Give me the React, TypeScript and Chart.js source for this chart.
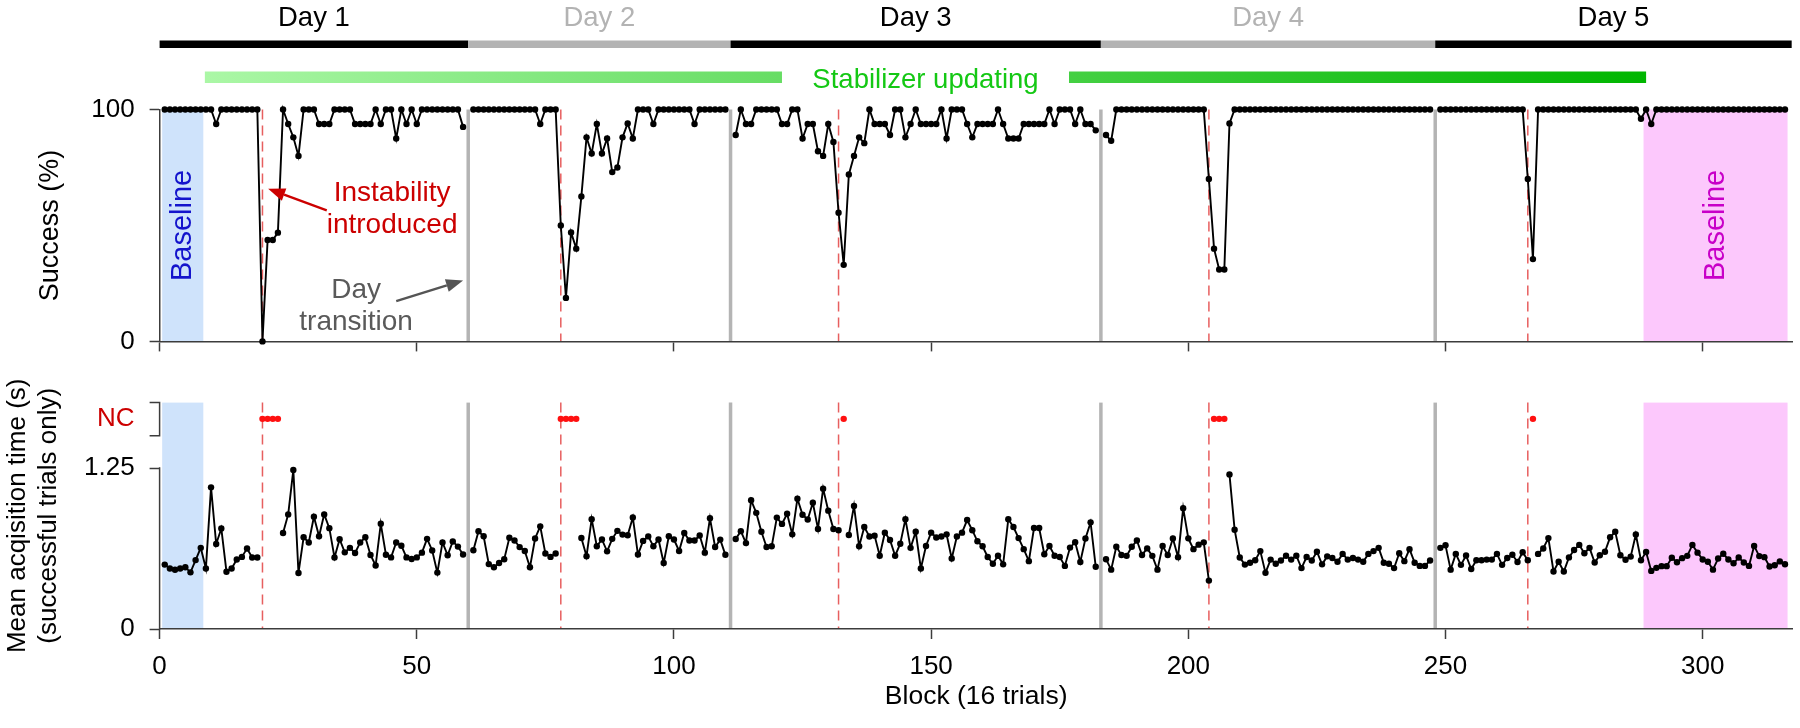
import React, { useEffect, useRef } from 'react';
import { Chart, registerables } from 'chart.js';

Chart.register(...registerables);

const FONT_FAMILY = '"Liberation Sans", Arial, Helvetica, sans-serif';
const FS = 26;
const FS_NOTE = 28;

const X_MIN = 0;
const X_MAX = 317.5;
const xTickValues = [0, 50, 100, 150, 200, 250, 300];

const dayNames = ['Day 1', 'Day 2', 'Day 3', 'Day 4', 'Day 5'];
const dayEdges = [0, 60, 111, 183, 248, 317.3];
const dayShades = ['#000000', '#b3b3b3', '#000000', '#b3b3b3', '#000000'];
const dayFirstBlock = [1, 61, 112, 184, 249];
const dayTransitions = [60, 111, 183, 248];
const instabilityBlocks = [20, 78, 132, 204, 266];
const ncBlocks = [20, 21, 22, 23, 78, 79, 80, 81, 133, 205, 206, 207, 267];
const NC_LEVEL = 1.632;
const stabilizerSpans = [[8.8, 121], [176.8, 289]];
const baselineSpans = [[0.5, 8.5], [288.5, 316.5]];

// Success (%) per block, one array per day
const success1 = [
  100, 100, 100, 100, 100, 100, 100, 100, 100, 100,
  93.75, 100, 100, 100, 100, 100, 100, 100, 100, 0,
  43.75, 43.75, 46.9, 100, 93.75, 88, 80, 100, 100, 100,
  93.75, 93.75, 93.75, 100, 100, 100, 100, 93.75, 93.75, 93.75,
  93.75, 100, 93.75, 100, 100, 87.5, 100, 93.75, 100, 93.75,
  100, 100, 100, 100, 100, 100, 100, 100, 92.5,
];
const success2 = [
  100, 100, 100, 100, 100, 100, 100, 100, 100, 100,
  100, 100, 100, 93.75, 100, 100, 100, 50, 18.75, 47,
  40, 62.5, 88, 81, 93.75, 81, 87.5, 73, 75, 88,
  94, 87.5, 100, 100, 100, 93.75, 100, 100, 100, 100,
  100, 100, 100, 93.75, 100, 100, 100, 100, 100, 100,
];
const success3 = [
  89, 100, 93.75, 93.75, 100, 100, 100, 100, 100, 93.75,
  93.75, 100, 100, 87.5, 93.75, 93.75, 82, 80, 93.75, 86,
  55.5, 33, 72, 80, 88, 85.5, 100, 93.75, 93.75, 93.75,
  89, 100, 100, 88, 93.75, 100, 93.75, 93.75, 93.75, 93.75,
  100, 87.5, 100, 100, 100, 93.75, 88, 93.75, 93.75, 93.75,
  93.75, 100, 93.75, 87.5, 87.5, 87.5, 93.75, 93.75, 93.75, 93.75,
  93.75, 100, 93.75, 100, 100, 100, 93.75, 100, 93.75, 93.75,
  91,
];
const success4 = [
  89, 86.5, 100, 100, 100, 100, 100, 100, 100, 100,
  100, 100, 100, 100, 100, 100, 100, 100, 100, 100,
  70, 40, 31, 31, 94, 100, 100, 100, 100, 100,
  100, 100, 100, 100, 100, 100, 100, 100, 100, 100,
  100, 100, 100, 100, 100, 100, 100, 100, 100, 100,
  100, 100, 100, 100, 100, 100, 100, 100, 100, 100,
  100, 100, 100, 100,
];
const success5 = [
  100, 100, 100, 100, 100, 100, 100, 100, 100, 100,
  100, 100, 100, 100, 100, 100, 100, 70, 35.5, 100,
  100, 100, 100, 100, 100, 100, 100, 100, 100, 100,
  100, 100, 100, 100, 100, 100, 100, 100, 100, 96,
  100, 93.75, 100, 100, 100, 100, 100, 100, 100, 100,
  100, 100, 100, 100, 100, 100, 100, 100, 100, 100,
  100, 100, 100, 100, 100, 100, 100, 100,
];

// Mean acquisition time (s) per block, null = not computed (NC)
const time1 = [
  0.5, 0.47, 0.46, 0.47, 0.48, 0.44, 0.535, 0.63, 0.47, 1.1,
  0.66, 0.78, 0.445, 0.47, 0.54, 0.56, 0.625, 0.555, 0.555, null,
  null, null, null, 0.745, 0.89, 1.235, 0.435, 0.712, 0.672, 0.872,
  0.72, 0.89, 0.783, 0.555, 0.697, 0.595, 0.63, 0.59, 0.672, 0.712,
  0.575, 0.493, 0.817, 0.577, 0.556, 0.672, 0.647, 0.556, 0.543, 0.556,
  0.593, 0.7, 0.61, 0.438, 0.672, 0.573, 0.68, 0.64, 0.578,
];
const time2 = [
  0.611, 0.759, 0.72, 0.504, 0.479, 0.512, 0.542, 0.708, 0.687, 0.636,
  0.606, 0.479, 0.703, 0.797, 0.586, 0.56, 0.586, null, null, null,
  null, 0.707, 0.565, 0.853, 0.643, 0.695, 0.603, 0.7, 0.762, 0.733,
  0.728, 0.866, 0.578, 0.684, 0.719, 0.643, 0.695, 0.513, 0.72, 0.695,
  0.606, 0.745, 0.687, 0.687, 0.726, 0.593, 0.86, 0.637, 0.694, 0.576,
];
const time3 = [
  0.699, 0.76, 0.667, 1.0, 0.902, 0.755, 0.637, 0.642, 0.865, 0.816,
  0.895, 0.735, 1.012, 0.887, 0.85, 0.98, 0.777, 1.09, 0.919, 0.777,
  0.767, null, 0.73, 0.956, 0.642, 0.792, 0.718, 0.725, 0.569, 0.748,
  0.691, 0.569, 0.662, 0.853, 0.63, 0.755, 0.47, 0.645, 0.748, 0.711,
  0.718, 0.735, 0.547, 0.718, 0.748, 0.846, 0.767, 0.681, 0.642, 0.559,
  0.507, 0.569, 0.502, 0.853, 0.792, 0.706, 0.62, 0.527, 0.784, 0.784,
  0.581, 0.645, 0.569, 0.559, 0.49, 0.632, 0.674, 0.52, 0.703, 0.828,
  0.483,
];
const time4 = [
  0.542, 0.461, 0.639, 0.575, 0.568, 0.639, 0.687, 0.575, 0.626, 0.568,
  0.461, 0.644, 0.575, 0.703, 0.558, 0.938, 0.704, 0.62, 0.655, 0.673,
  0.376, null, null, null, 1.2, 0.771, 0.555, 0.5, 0.515, 0.534,
  0.605, 0.436, 0.539, 0.507, 0.532, 0.569, 0.539, 0.569, 0.473, 0.559,
  0.532, 0.6, 0.502, 0.564, 0.551, 0.522, 0.583, 0.539, 0.551, 0.539,
  0.522, 0.583, 0.605, 0.63, 0.515, 0.507, 0.473, 0.588, 0.527, 0.62,
  0.515, 0.49, 0.49, 0.532,
];
const time5 = [
  0.63, 0.65, 0.461, 0.583, 0.498, 0.571, 0.466, 0.534, 0.534, 0.539,
  0.539, 0.583, 0.498, 0.551, 0.576, 0.52, 0.596, 0.534, null, 0.583,
  0.625, 0.706, 0.447, 0.522, 0.446, 0.556, 0.613, 0.653, 0.588, 0.63,
  0.516, 0.573, 0.6, 0.712, 0.755, 0.573, 0.538, 0.562, 0.734, 0.534,
  0.598, 0.451, 0.475, 0.488, 0.488, 0.553, 0.518, 0.55, 0.568, 0.653,
  0.593, 0.54, 0.522, 0.461, 0.547, 0.584, 0.54, 0.51, 0.555, 0.516,
  0.49, 0.645, 0.566, 0.558, 0.485, 0.495, 0.525, 0.503,
];

const successDays = [success1, success2, success3, success4, success5];
const timeDays = [time1, time2, time3, time4, time5];

const AXIS = '#3c3c3c';
const BLUE_SHADE = '#cfe3fb';
const PINK_SHADE = '#fcc8fc';
const GRAY_LINE = '#b4b4b4';
const RED_DASH = 'rgba(228, 78, 78, 0.9)';
const LABEL_RED = '#cc0000';

const font = (size = FS) => `${size}px ${FONT_FAMILY}`;

function toPoints(values: (number | null)[], first: number) {
  return values.map((v, i) => ({ x: first + i, y: v }));
}

function lineDataset(points: any[]) {
  return {
    data: points,
    borderColor: '#000',
    backgroundColor: '#000',
    borderWidth: 1.9,
    pointRadius: 3.2,
    pointBorderWidth: 0,
    pointBackgroundColor: '#000',
    tension: 0,
    spanGaps: false,
    clip: false as const,
  };
}

function drawBackground(chart: any, topVal: number) {
  const { ctx, scales } = chart;
  const x = scales.x;
  const y = scales.y;
  const yTop = y.getPixelForValue(topVal);
  const yBot = y.getPixelForValue(0);
  ctx.save();
  baselineSpans.forEach((span, i) => {
    ctx.fillStyle = i === 0 ? BLUE_SHADE : PINK_SHADE;
    const x0 = x.getPixelForValue(span[0]);
    const x1 = x.getPixelForValue(span[1]);
    ctx.fillRect(x0, yTop, x1 - x0, yBot - yTop);
  });
  ctx.strokeStyle = GRAY_LINE;
  ctx.lineWidth = 3.5;
  dayTransitions.forEach((b) => {
    const px = x.getPixelForValue(b);
    ctx.beginPath();
    ctx.moveTo(px, yTop);
    ctx.lineTo(px, yBot);
    ctx.stroke();
  });
  ctx.strokeStyle = RED_DASH;
  ctx.lineWidth = 1.5;
  ctx.setLineDash([10, 6]);
  instabilityBlocks.forEach((b) => {
    const px = x.getPixelForValue(b);
    ctx.beginPath();
    ctx.moveTo(px, yTop);
    ctx.lineTo(px, yBot);
    ctx.stroke();
  });
  ctx.restore();
}

function drawArrow(ctx: CanvasRenderingContext2D, x0: number, y0: number, x1: number, y1: number, color: string) {
  const ang = Math.atan2(y1 - y0, x1 - x0);
  const headLen = 17;
  const headW = 13;
  const bx = x1 - headLen * Math.cos(ang);
  const by = y1 - headLen * Math.sin(ang);
  ctx.strokeStyle = color;
  ctx.fillStyle = color;
  ctx.lineWidth = 2.4;
  ctx.beginPath();
  ctx.moveTo(x0, y0);
  ctx.lineTo(bx, by);
  ctx.stroke();
  ctx.beginPath();
  ctx.moveTo(x1, y1);
  ctx.lineTo(bx + (headW / 2) * Math.sin(ang), by - (headW / 2) * Math.cos(ang));
  ctx.lineTo(bx - (headW / 2) * Math.sin(ang), by + (headW / 2) * Math.cos(ang));
  ctx.closePath();
  ctx.fill();
}

const topDecor = {
  id: 'topDecor',
  beforeDraw(chart: any) {
    drawBackground(chart, 100);
  },
  afterDraw(chart: any) {
    const { ctx, scales } = chart;
    const x = scales.x;
    const y = scales.y;
    ctx.save();
    // Day bars and labels
    dayNames.forEach((name, i) => {
      const x0 = x.getPixelForValue(dayEdges[i]);
      const x1 = x.getPixelForValue(dayEdges[i + 1]);
      ctx.fillStyle = dayShades[i];
      ctx.fillRect(x0, 40.5, x1 - x0, 7.5);
      ctx.font = font(27.5);
      ctx.textAlign = 'center';
      ctx.textBaseline = 'alphabetic';
      ctx.fillText(name, (x0 + x1) / 2, 25.5);
    });
    // Stabilizer bars with gradient
    const g0 = x.getPixelForValue(stabilizerSpans[0][0]);
    const g1 = x.getPixelForValue(stabilizerSpans[1][1]);
    const grad = ctx.createLinearGradient(g0, 0, g1, 0);
    grad.addColorStop(0, '#abf7a6');
    grad.addColorStop(1, '#00b600');
    ctx.fillStyle = grad;
    stabilizerSpans.forEach((s) => {
      const a0 = x.getPixelForValue(s[0]);
      const a1 = x.getPixelForValue(s[1]);
      ctx.fillRect(a0, 71.5, a1 - a0, 11.5);
    });
    ctx.fillStyle = '#14c814';
    ctx.font = font(27.5);
    ctx.textAlign = 'center';
    ctx.textBaseline = 'alphabetic';
    const midGap = (x.getPixelForValue(stabilizerSpans[0][1]) + x.getPixelForValue(stabilizerSpans[1][0])) / 2;
    ctx.fillText('Stabilizer updating', midGap, 87.5);

    // Baseline labels (rotated)
    const baseColors = ['#1414cc', '#c800c8'];
    baselineSpans.forEach((span, i) => {
      const cx = (x.getPixelForValue(span[0]) + x.getPixelForValue(span[1])) / 2;
      const cy = y.getPixelForValue(50);
      ctx.save();
      ctx.translate(cx, cy);
      ctx.rotate(-Math.PI / 2);
      ctx.fillStyle = baseColors[i];
      ctx.font = font(29);
      ctx.textAlign = 'center';
      ctx.textBaseline = 'middle';
      ctx.fillText('Baseline', 0, 0);
      ctx.restore();
    });

    // Instability annotation
    ctx.fillStyle = LABEL_RED;
    ctx.font = font(FS_NOTE);
    ctx.textAlign = 'center';
    ctx.textBaseline = 'alphabetic';
    ctx.fillText('Instability', x.getPixelForValue(45.2), y.getPixelForValue(60.6));
    ctx.fillText('introduced', x.getPixelForValue(45.2), y.getPixelForValue(46.8));
    drawArrow(ctx, x.getPixelForValue(32.5), y.getPixelForValue(56.5), x.getPixelForValue(21.1), y.getPixelForValue(65.8), LABEL_RED);

    // Day transition annotation
    ctx.fillStyle = '#5a5a5a';
    ctx.fillText('Day', x.getPixelForValue(38.2), y.getPixelForValue(18.5));
    ctx.fillText('transition', x.getPixelForValue(38.2), y.getPixelForValue(4.8));
    drawArrow(ctx, x.getPixelForValue(46.0), y.getPixelForValue(17.4), x.getPixelForValue(59.0), y.getPixelForValue(26.3), '#555555');
    ctx.restore();
  },
};

const bottomDecor = {
  id: 'bottomDecor',
  beforeDraw(chart: any) {
    drawBackground(chart, chart.scales.y.max);
  },
  afterDraw(chart: any) {
    const { ctx, chartArea: a, scales } = chart;
    const y = scales.y;
    ctx.save();
    ctx.strokeStyle = AXIS;
    ctx.lineWidth = 1.5;
    // y axis line from 0 to 1.25
    ctx.beginPath();
    ctx.moveTo(a.left, y.getPixelForValue(0) + 0.75);
    ctx.lineTo(a.left, y.getPixelForValue(1.25) - 0.75);
    ctx.stroke();
    // NC bracket
    const bTop = y.getPixelForValue(y.max);
    const bBot = y.getPixelForValue(1.5);
    ctx.beginPath();
    ctx.moveTo(a.left - 10, bTop);
    ctx.lineTo(a.left, bTop);
    ctx.lineTo(a.left, bBot);
    ctx.lineTo(a.left - 10, bBot);
    ctx.stroke();
    ctx.restore();
  },
};

const axisGrid = {
  display: true,
  drawOnChartArea: false,
  drawTicks: true,
  tickLength: 10,
  tickWidth: 1.5,
  tickColor: AXIS,
  color: AXIS,
};

function topConfig(): any {
  return {
    type: 'line',
    data: {
      datasets: successDays.map((d, i) => lineDataset(toPoints(d, dayFirstBlock[i]))),
    },
    options: {
      responsive: false,
      animation: false,
      devicePixelRatio: 1,
      events: [],
      layout: { padding: { top: 109.5, right: 7.3, bottom: 0, left: 0 }, autoPadding: false },
      plugins: { legend: { display: false }, tooltip: { enabled: false }, title: { display: false } },
      scales: {
        x: {
          type: 'linear',
          min: X_MIN,
          max: X_MAX,
          afterFit: (s: any) => { s.height = 24.5; },
          afterBuildTicks: (s: any) => { s.ticks = xTickValues.map((v) => ({ value: v })); },
          ticks: { display: false },
          grid: axisGrid,
          border: { display: true, color: AXIS, width: 1.5 },
        },
        y: {
          type: 'linear',
          min: 0,
          max: 100,
          afterFit: (s: any) => { s.width = 159.6; },
          afterBuildTicks: (s: any) => { s.ticks = [{ value: 0 }, { value: 100 }]; },
          ticks: { font: { family: FONT_FAMILY, size: FS }, color: '#000', padding: 15 },
          grid: axisGrid,
          border: { display: true, color: AXIS, width: 1.5 },
          title: {
            display: true,
            text: 'Success (%)',
            color: '#000',
            font: { family: FONT_FAMILY, size: 27 },
            padding: { top: 34, bottom: 0 },
          },
        },
      },
    },
    plugins: [topDecor],
  };
}

function bottomConfig(): any {
  const datasets: any[] = timeDays.map((d, i) => lineDataset(toPoints(d, dayFirstBlock[i])));
  datasets.push({
    type: 'scatter',
    data: ncBlocks.map((b) => ({ x: b, y: NC_LEVEL })),
    showLine: false,
    pointRadius: 3.2,
    pointBorderWidth: 0,
    pointBackgroundColor: '#ff1010',
    backgroundColor: '#ff1010',
    borderColor: '#ff1010',
    clip: false,
  });
  return {
    type: 'line',
    data: { datasets },
    options: {
      responsive: false,
      animation: false,
      devicePixelRatio: 1,
      events: [],
      layout: { padding: { top: 20, right: 7.3, bottom: 0, left: 0 }, autoPadding: false },
      plugins: { legend: { display: false }, tooltip: { enabled: false }, title: { display: false } },
      scales: {
        x: {
          type: 'linear',
          min: X_MIN,
          max: X_MAX,
          afterFit: (s: any) => { s.height = 99; },
          afterBuildTicks: (s: any) => { s.ticks = xTickValues.map((v) => ({ value: v })); },
          ticks: {
            font: { family: FONT_FAMILY, size: FS },
            color: '#000',
            padding: 12,
            maxRotation: 0,
            callback: (v: any) => String(v),
          },
          grid: axisGrid,
          border: { display: true, color: AXIS, width: 1.5 },
          title: {
            display: true,
            text: 'Block (16 trials)',
            color: '#000',
            font: { family: FONT_FAMILY, size: 26.5 },
            padding: { top: 0, bottom: 15 },
          },
        },
        y: {
          type: 'linear',
          min: 0,
          max: 1.758,
          afterFit: (s: any) => { s.width = 159.6; },
          afterBuildTicks: (s: any) => { s.ticks = [{ value: 0 }, { value: 1.25 }, { value: NC_LEVEL }]; },
          ticks: {
            font: { family: FONT_FAMILY, size: FS },
            color: (c: any) => (c.tick && c.tick.value === NC_LEVEL ? LABEL_RED : '#000'),
            padding: 15,
            callback: (v: any) => (v === NC_LEVEL ? 'NC' : v === 1.25 ? '1.25' : '0'),
          },
          grid: {
            ...axisGrid,
            tickColor: (c: any) => (c.tick && c.tick.value === NC_LEVEL ? 'rgba(0,0,0,0)' : AXIS),
          },
          border: { display: false },
          title: {
            display: true,
            text: ['Mean acqisition time (s)', '(successful trials only)'],
            color: '#000',
            font: { family: FONT_FAMILY, size: FS },
            padding: { top: 2, bottom: 0 },
          },
        },
      },
    },
    plugins: [bottomDecor],
  };
}

export default function App() {
  const topRef = useRef<HTMLCanvasElement>(null);
  const botRef = useRef<HTMLCanvasElement>(null);

  useEffect(() => {
    Chart.defaults.font.family = FONT_FAMILY;
    const top = new Chart(topRef.current as HTMLCanvasElement, topConfig());
    const bot = new Chart(botRef.current as HTMLCanvasElement, bottomConfig());
    return () => {
      top.destroy();
      bot.destroy();
    };
  }, []);

  return (
    <div style={{ position: 'absolute', left: 0, top: 0, width: 1800, height: 728, background: '#fff' }}>
      <canvas
        ref={topRef}
        width={1800}
        height={372}
        style={{ position: 'absolute', left: 0, top: 0, width: 1800, height: 372 }}
      />
      <canvas
        ref={botRef}
        width={1800}
        height={356}
        style={{ position: 'absolute', left: 0, top: 372, width: 1800, height: 356 }}
      />
    </div>
  );
}
